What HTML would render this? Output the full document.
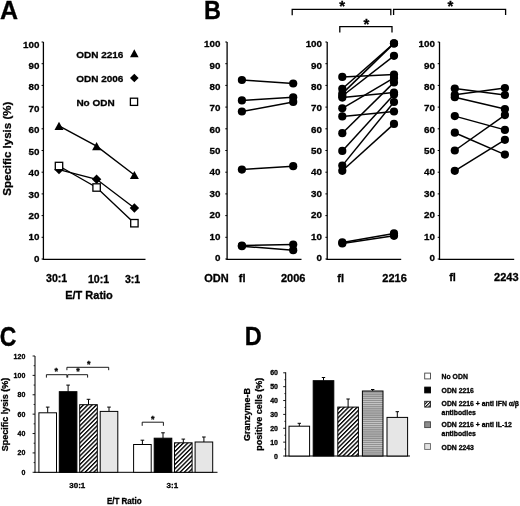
<!DOCTYPE html>
<html><head><meta charset="utf-8"><style>
html,body{margin:0;padding:0;background:#fff;}
svg{display:block;filter:grayscale(100%) blur(0.3px);}
text{font-family:"Liberation Sans", sans-serif;fill:#000;stroke:#000;stroke-width:0.3px;}
</style></head><body>
<svg width="520" height="506" viewBox="0 0 520 506">
<rect width="520" height="506" fill="#fff"/>
<text x="0.1" y="18.5" font-size="25" text-anchor="start" font-weight="bold" >A</text>
<line x1="43.4" y1="42" x2="43.4" y2="259.9" stroke="#000" stroke-width="1.3"/>
<line x1="42.8" y1="259.4" x2="145.5" y2="259.4" stroke="#000" stroke-width="1.1"/>
<line x1="41.6" y1="259.0" x2="43.4" y2="259.0" stroke="#000" stroke-width="1"/>
<text x="39.4" y="261.85" font-size="9.8" text-anchor="end" font-weight="bold" >0</text>
<line x1="41.6" y1="237.3" x2="43.4" y2="237.3" stroke="#000" stroke-width="1"/>
<text x="39.4" y="240.42000000000002" font-size="9.8" text-anchor="end" font-weight="bold" >10</text>
<line x1="41.6" y1="215.6" x2="43.4" y2="215.6" stroke="#000" stroke-width="1"/>
<text x="39.4" y="218.99" font-size="9.8" text-anchor="end" font-weight="bold" >20</text>
<line x1="41.6" y1="193.9" x2="43.4" y2="193.9" stroke="#000" stroke-width="1"/>
<text x="39.4" y="197.56000000000003" font-size="9.8" text-anchor="end" font-weight="bold" >30</text>
<line x1="41.6" y1="172.2" x2="43.4" y2="172.2" stroke="#000" stroke-width="1"/>
<text x="39.4" y="176.13000000000002" font-size="9.8" text-anchor="end" font-weight="bold" >40</text>
<line x1="41.6" y1="150.5" x2="43.4" y2="150.5" stroke="#000" stroke-width="1"/>
<text x="39.4" y="154.70000000000002" font-size="9.8" text-anchor="end" font-weight="bold" >50</text>
<line x1="41.6" y1="128.8" x2="43.4" y2="128.8" stroke="#000" stroke-width="1"/>
<text x="39.4" y="133.27000000000004" font-size="9.8" text-anchor="end" font-weight="bold" >60</text>
<line x1="41.6" y1="107.1" x2="43.4" y2="107.1" stroke="#000" stroke-width="1"/>
<text x="39.4" y="111.84000000000003" font-size="9.8" text-anchor="end" font-weight="bold" >70</text>
<line x1="41.6" y1="85.4" x2="43.4" y2="85.4" stroke="#000" stroke-width="1"/>
<text x="39.4" y="90.41000000000003" font-size="9.8" text-anchor="end" font-weight="bold" >80</text>
<line x1="41.6" y1="63.70000000000002" x2="43.4" y2="63.70000000000002" stroke="#000" stroke-width="1"/>
<text x="39.4" y="68.98000000000002" font-size="9.8" text-anchor="end" font-weight="bold" >90</text>
<line x1="41.6" y1="42.0" x2="43.4" y2="42.0" stroke="#000" stroke-width="1"/>
<text x="39.4" y="47.55000000000001" font-size="9.8" text-anchor="end" font-weight="bold" >100</text>
<text transform="translate(10.6,148.7) rotate(-90)" font-size="11.5" font-weight="bold" text-anchor="middle">Specific lysis (%)</text>
<text x="56.6" y="282.2" font-size="10.6" text-anchor="middle" font-weight="bold" >30:1</text>
<text x="98.5" y="283.4" font-size="10.6" text-anchor="middle" font-weight="bold" >10:1</text>
<text x="132.6" y="283.4" font-size="10.6" text-anchor="middle" font-weight="bold" >3:1</text>
<text x="89" y="299.0" font-size="11" text-anchor="middle" font-weight="bold" >E/T Ratio</text>
<polyline points="59,125.8 96.6,146.2 134.4,175" fill="none" stroke="#000" stroke-width="1.4"/>
<polyline points="59,169.6 96.6,179.3 134.4,208" fill="none" stroke="#000" stroke-width="1.4"/>
<polyline points="59,166 96.6,187.5 134.4,223.2" fill="none" stroke="#000" stroke-width="1.4"/>
<polygon points="54.5,129.9 63.5,129.9 59,121.7" fill="#000"/>
<polygon points="92.1,150.29999999999998 101.1,150.29999999999998 96.6,142.1" fill="#000"/>
<polygon points="129.9,179.1 138.9,179.1 134.4,170.9" fill="#000"/>
<polygon points="59,164.9 63.7,169.6 59,174.29999999999998 54.3,169.6" fill="#000"/>
<polygon points="96.6,174.60000000000002 101.3,179.3 96.6,184.0 91.89999999999999,179.3" fill="#000"/>
<polygon points="134.4,203.3 139.1,208 134.4,212.7 129.70000000000002,208" fill="#000"/>
<rect x="55.3" y="162.3" width="7.4" height="7.4" fill="#fff" stroke="#000" stroke-width="1.3"/>
<rect x="92.89999999999999" y="183.8" width="7.4" height="7.4" fill="#fff" stroke="#000" stroke-width="1.3"/>
<rect x="130.70000000000002" y="219.5" width="7.4" height="7.4" fill="#fff" stroke="#000" stroke-width="1.3"/>
<text transform="translate(76.2,57.9) scale(1,0.9)" font-size="10" font-weight="bold">ODN 2216</text>
<polygon points="130.0,57.3 138.60000000000002,57.3 134.3,49.3" fill="#000"/>
<text transform="translate(76.2,82) scale(1,0.9)" font-size="10" font-weight="bold">ODN 2006</text>
<polygon points="134.3,73.7 138.60000000000002,78 134.3,82.3 130.0,78" fill="#000"/>
<text transform="translate(76.4,106.2) scale(1,0.9)" font-size="10" font-weight="bold">No ODN</text>
<rect x="130.4" y="98.2" width="7.2" height="7.2" fill="#fff" stroke="#000" stroke-width="1.3"/>
<text transform="translate(204,18.5) scale(1,1.08)" font-size="23.5" font-weight="bold">B</text>
<line x1="227.1" y1="42" x2="227.1" y2="259.9" stroke="#000" stroke-width="1.3"/>
<line x1="226.5" y1="259.4" x2="301.5" y2="259.4" stroke="#000" stroke-width="1.1"/>
<line x1="225.29999999999998" y1="259.0" x2="227.1" y2="259.0" stroke="#000" stroke-width="1"/>
<text x="220.4" y="260.9" font-size="9.8" text-anchor="end" font-weight="bold" >0</text>
<line x1="225.29999999999998" y1="237.3" x2="227.1" y2="237.3" stroke="#000" stroke-width="1"/>
<text x="220.4" y="239.53999999999996" font-size="9.8" text-anchor="end" font-weight="bold" >10</text>
<line x1="225.29999999999998" y1="215.6" x2="227.1" y2="215.6" stroke="#000" stroke-width="1"/>
<text x="220.4" y="218.17999999999998" font-size="9.8" text-anchor="end" font-weight="bold" >20</text>
<line x1="225.29999999999998" y1="193.9" x2="227.1" y2="193.9" stroke="#000" stroke-width="1"/>
<text x="220.4" y="196.82" font-size="9.8" text-anchor="end" font-weight="bold" >30</text>
<line x1="225.29999999999998" y1="172.2" x2="227.1" y2="172.2" stroke="#000" stroke-width="1"/>
<text x="220.4" y="175.45999999999998" font-size="9.8" text-anchor="end" font-weight="bold" >40</text>
<line x1="225.29999999999998" y1="150.5" x2="227.1" y2="150.5" stroke="#000" stroke-width="1"/>
<text x="220.4" y="154.09999999999997" font-size="9.8" text-anchor="end" font-weight="bold" >50</text>
<line x1="225.29999999999998" y1="128.8" x2="227.1" y2="128.8" stroke="#000" stroke-width="1"/>
<text x="220.4" y="132.73999999999998" font-size="9.8" text-anchor="end" font-weight="bold" >60</text>
<line x1="225.29999999999998" y1="107.1" x2="227.1" y2="107.1" stroke="#000" stroke-width="1"/>
<text x="220.4" y="111.38" font-size="9.8" text-anchor="end" font-weight="bold" >70</text>
<line x1="225.29999999999998" y1="85.4" x2="227.1" y2="85.4" stroke="#000" stroke-width="1"/>
<text x="220.4" y="90.01999999999998" font-size="9.8" text-anchor="end" font-weight="bold" >80</text>
<line x1="225.29999999999998" y1="63.70000000000002" x2="227.1" y2="63.70000000000002" stroke="#000" stroke-width="1"/>
<text x="220.4" y="68.65999999999997" font-size="9.8" text-anchor="end" font-weight="bold" >90</text>
<line x1="225.29999999999998" y1="42.0" x2="227.1" y2="42.0" stroke="#000" stroke-width="1"/>
<text x="220.4" y="47.29999999999998" font-size="9.8" text-anchor="end" font-weight="bold" >100</text>
<line x1="327.2" y1="42" x2="327.2" y2="259.9" stroke="#000" stroke-width="1.3"/>
<line x1="326.59999999999997" y1="259.4" x2="401.2" y2="259.4" stroke="#000" stroke-width="1.1"/>
<line x1="325.4" y1="259.0" x2="327.2" y2="259.0" stroke="#000" stroke-width="1"/>
<text x="322.0" y="260.9" font-size="9.8" text-anchor="end" font-weight="bold" >0</text>
<line x1="325.4" y1="237.3" x2="327.2" y2="237.3" stroke="#000" stroke-width="1"/>
<text x="322.0" y="239.53999999999996" font-size="9.8" text-anchor="end" font-weight="bold" >10</text>
<line x1="325.4" y1="215.6" x2="327.2" y2="215.6" stroke="#000" stroke-width="1"/>
<text x="322.0" y="218.17999999999998" font-size="9.8" text-anchor="end" font-weight="bold" >20</text>
<line x1="325.4" y1="193.9" x2="327.2" y2="193.9" stroke="#000" stroke-width="1"/>
<text x="322.0" y="196.82" font-size="9.8" text-anchor="end" font-weight="bold" >30</text>
<line x1="325.4" y1="172.2" x2="327.2" y2="172.2" stroke="#000" stroke-width="1"/>
<text x="322.0" y="175.45999999999998" font-size="9.8" text-anchor="end" font-weight="bold" >40</text>
<line x1="325.4" y1="150.5" x2="327.2" y2="150.5" stroke="#000" stroke-width="1"/>
<text x="322.0" y="154.09999999999997" font-size="9.8" text-anchor="end" font-weight="bold" >50</text>
<line x1="325.4" y1="128.8" x2="327.2" y2="128.8" stroke="#000" stroke-width="1"/>
<text x="322.0" y="132.73999999999998" font-size="9.8" text-anchor="end" font-weight="bold" >60</text>
<line x1="325.4" y1="107.1" x2="327.2" y2="107.1" stroke="#000" stroke-width="1"/>
<text x="322.0" y="111.38" font-size="9.8" text-anchor="end" font-weight="bold" >70</text>
<line x1="325.4" y1="85.4" x2="327.2" y2="85.4" stroke="#000" stroke-width="1"/>
<text x="322.0" y="90.01999999999998" font-size="9.8" text-anchor="end" font-weight="bold" >80</text>
<line x1="325.4" y1="63.70000000000002" x2="327.2" y2="63.70000000000002" stroke="#000" stroke-width="1"/>
<text x="322.0" y="68.65999999999997" font-size="9.8" text-anchor="end" font-weight="bold" >90</text>
<line x1="325.4" y1="42.0" x2="327.2" y2="42.0" stroke="#000" stroke-width="1"/>
<text x="322.0" y="47.29999999999998" font-size="9.8" text-anchor="end" font-weight="bold" >100</text>
<line x1="439.5" y1="42" x2="439.5" y2="259.9" stroke="#000" stroke-width="1.3"/>
<line x1="438.9" y1="259.4" x2="514.2" y2="259.4" stroke="#000" stroke-width="1.1"/>
<line x1="437.7" y1="259.0" x2="439.5" y2="259.0" stroke="#000" stroke-width="1"/>
<text x="434.9" y="260.9" font-size="9.8" text-anchor="end" font-weight="bold" >0</text>
<line x1="437.7" y1="237.3" x2="439.5" y2="237.3" stroke="#000" stroke-width="1"/>
<text x="434.9" y="239.53999999999996" font-size="9.8" text-anchor="end" font-weight="bold" >10</text>
<line x1="437.7" y1="215.6" x2="439.5" y2="215.6" stroke="#000" stroke-width="1"/>
<text x="434.9" y="218.17999999999998" font-size="9.8" text-anchor="end" font-weight="bold" >20</text>
<line x1="437.7" y1="193.9" x2="439.5" y2="193.9" stroke="#000" stroke-width="1"/>
<text x="434.9" y="196.82" font-size="9.8" text-anchor="end" font-weight="bold" >30</text>
<line x1="437.7" y1="172.2" x2="439.5" y2="172.2" stroke="#000" stroke-width="1"/>
<text x="434.9" y="175.45999999999998" font-size="9.8" text-anchor="end" font-weight="bold" >40</text>
<line x1="437.7" y1="150.5" x2="439.5" y2="150.5" stroke="#000" stroke-width="1"/>
<text x="434.9" y="154.09999999999997" font-size="9.8" text-anchor="end" font-weight="bold" >50</text>
<line x1="437.7" y1="128.8" x2="439.5" y2="128.8" stroke="#000" stroke-width="1"/>
<text x="434.9" y="132.73999999999998" font-size="9.8" text-anchor="end" font-weight="bold" >60</text>
<line x1="437.7" y1="107.1" x2="439.5" y2="107.1" stroke="#000" stroke-width="1"/>
<text x="434.9" y="111.38" font-size="9.8" text-anchor="end" font-weight="bold" >70</text>
<line x1="437.7" y1="85.4" x2="439.5" y2="85.4" stroke="#000" stroke-width="1"/>
<text x="434.9" y="90.01999999999998" font-size="9.8" text-anchor="end" font-weight="bold" >80</text>
<line x1="437.7" y1="63.70000000000002" x2="439.5" y2="63.70000000000002" stroke="#000" stroke-width="1"/>
<text x="434.9" y="68.65999999999997" font-size="9.8" text-anchor="end" font-weight="bold" >90</text>
<line x1="437.7" y1="42.0" x2="439.5" y2="42.0" stroke="#000" stroke-width="1"/>
<text x="434.9" y="47.29999999999998" font-size="9.8" text-anchor="end" font-weight="bold" >100</text>
<line x1="241.9" y1="80" x2="293.2" y2="83.5" stroke="#000" stroke-width="1.5"/>
<line x1="241.9" y1="100.4" x2="293.2" y2="97.3" stroke="#000" stroke-width="1.5"/>
<line x1="241.9" y1="111.5" x2="293.2" y2="101.9" stroke="#000" stroke-width="1.5"/>
<line x1="241.9" y1="169.6" x2="293.2" y2="166.2" stroke="#000" stroke-width="1.5"/>
<line x1="241.9" y1="245.5" x2="293.2" y2="244.6" stroke="#000" stroke-width="1.5"/>
<line x1="241.9" y1="246.2" x2="293.2" y2="250.2" stroke="#000" stroke-width="1.5"/>
<circle cx="241.9" cy="80" r="4.1" fill="#000"/>
<circle cx="293.2" cy="83.5" r="4.1" fill="#000"/>
<circle cx="241.9" cy="100.4" r="4.1" fill="#000"/>
<circle cx="293.2" cy="97.3" r="4.1" fill="#000"/>
<circle cx="241.9" cy="111.5" r="4.1" fill="#000"/>
<circle cx="293.2" cy="101.9" r="4.1" fill="#000"/>
<circle cx="241.9" cy="169.6" r="4.1" fill="#000"/>
<circle cx="293.2" cy="166.2" r="4.1" fill="#000"/>
<circle cx="241.9" cy="245.5" r="4.1" fill="#000"/>
<circle cx="293.2" cy="244.6" r="4.1" fill="#000"/>
<circle cx="241.9" cy="246.2" r="4.1" fill="#000"/>
<circle cx="293.2" cy="250.2" r="4.1" fill="#000"/>
<line x1="342.3" y1="76.9" x2="394.0" y2="74.6" stroke="#000" stroke-width="1.5"/>
<line x1="342.3" y1="88.8" x2="394.0" y2="43.4" stroke="#000" stroke-width="1.5"/>
<line x1="342.3" y1="93.6" x2="394.0" y2="43.4" stroke="#000" stroke-width="1.5"/>
<line x1="342.3" y1="96" x2="394.0" y2="55.8" stroke="#000" stroke-width="1.5"/>
<line x1="342.3" y1="97.6" x2="394.0" y2="92.5" stroke="#000" stroke-width="1.5"/>
<line x1="342.3" y1="108.3" x2="394.0" y2="77.9" stroke="#000" stroke-width="1.5"/>
<line x1="342.3" y1="116.4" x2="394.0" y2="111.5" stroke="#000" stroke-width="1.5"/>
<line x1="342.3" y1="133.2" x2="394.0" y2="82.4" stroke="#000" stroke-width="1.5"/>
<line x1="342.3" y1="150.9" x2="394.0" y2="94.6" stroke="#000" stroke-width="1.5"/>
<line x1="342.3" y1="165.6" x2="394.0" y2="102" stroke="#000" stroke-width="1.5"/>
<line x1="342.3" y1="170.8" x2="394.0" y2="123.9" stroke="#000" stroke-width="1.5"/>
<line x1="342.3" y1="242.4" x2="394.0" y2="233.4" stroke="#000" stroke-width="1.5"/>
<line x1="342.3" y1="243.4" x2="394.0" y2="235.8" stroke="#000" stroke-width="1.5"/>
<circle cx="342.3" cy="76.9" r="4.1" fill="#000"/>
<circle cx="394.0" cy="74.6" r="4.1" fill="#000"/>
<circle cx="342.3" cy="88.8" r="4.1" fill="#000"/>
<circle cx="394.0" cy="43.4" r="4.1" fill="#000"/>
<circle cx="342.3" cy="93.6" r="4.1" fill="#000"/>
<circle cx="394.0" cy="43.4" r="4.1" fill="#000"/>
<circle cx="342.3" cy="96" r="4.1" fill="#000"/>
<circle cx="394.0" cy="55.8" r="4.1" fill="#000"/>
<circle cx="342.3" cy="97.6" r="4.1" fill="#000"/>
<circle cx="394.0" cy="92.5" r="4.1" fill="#000"/>
<circle cx="342.3" cy="108.3" r="4.1" fill="#000"/>
<circle cx="394.0" cy="77.9" r="4.1" fill="#000"/>
<circle cx="342.3" cy="116.4" r="4.1" fill="#000"/>
<circle cx="394.0" cy="111.5" r="4.1" fill="#000"/>
<circle cx="342.3" cy="133.2" r="4.1" fill="#000"/>
<circle cx="394.0" cy="82.4" r="4.1" fill="#000"/>
<circle cx="342.3" cy="150.9" r="4.1" fill="#000"/>
<circle cx="394.0" cy="94.6" r="4.1" fill="#000"/>
<circle cx="342.3" cy="165.6" r="4.1" fill="#000"/>
<circle cx="394.0" cy="102" r="4.1" fill="#000"/>
<circle cx="342.3" cy="170.8" r="4.1" fill="#000"/>
<circle cx="394.0" cy="123.9" r="4.1" fill="#000"/>
<circle cx="342.3" cy="242.4" r="4.1" fill="#000"/>
<circle cx="394.0" cy="233.4" r="4.1" fill="#000"/>
<circle cx="342.3" cy="243.4" r="4.1" fill="#000"/>
<circle cx="394.0" cy="235.8" r="4.1" fill="#000"/>
<line x1="454.8" y1="88.6" x2="504.9" y2="95" stroke="#000" stroke-width="1.5"/>
<line x1="454.8" y1="94.8" x2="504.9" y2="88" stroke="#000" stroke-width="1.5"/>
<line x1="454.8" y1="97.2" x2="504.9" y2="109" stroke="#000" stroke-width="1.5"/>
<line x1="454.8" y1="116.1" x2="504.9" y2="129.9" stroke="#000" stroke-width="1.5"/>
<line x1="454.8" y1="132.7" x2="504.9" y2="154.6" stroke="#000" stroke-width="1.5"/>
<line x1="454.8" y1="150.5" x2="504.9" y2="115.1" stroke="#000" stroke-width="1.5"/>
<line x1="454.8" y1="170.8" x2="504.9" y2="139.8" stroke="#000" stroke-width="1.5"/>
<circle cx="454.8" cy="88.6" r="4.1" fill="#000"/>
<circle cx="504.9" cy="95" r="4.1" fill="#000"/>
<circle cx="454.8" cy="94.8" r="4.1" fill="#000"/>
<circle cx="504.9" cy="88" r="4.1" fill="#000"/>
<circle cx="454.8" cy="97.2" r="4.1" fill="#000"/>
<circle cx="504.9" cy="109" r="4.1" fill="#000"/>
<circle cx="454.8" cy="116.1" r="4.1" fill="#000"/>
<circle cx="504.9" cy="129.9" r="4.1" fill="#000"/>
<circle cx="454.8" cy="132.7" r="4.1" fill="#000"/>
<circle cx="504.9" cy="154.6" r="4.1" fill="#000"/>
<circle cx="454.8" cy="150.5" r="4.1" fill="#000"/>
<circle cx="504.9" cy="115.1" r="4.1" fill="#000"/>
<circle cx="454.8" cy="170.8" r="4.1" fill="#000"/>
<circle cx="504.9" cy="139.8" r="4.1" fill="#000"/>
<text x="216.4" y="282" font-size="11" text-anchor="middle" font-weight="bold" >ODN</text>
<text x="242.2" y="282" font-size="11" text-anchor="middle" font-weight="bold" >fl</text>
<text x="293.2" y="282" font-size="11" text-anchor="middle" font-weight="bold" >2006</text>
<text x="340.6" y="282" font-size="11" text-anchor="middle" font-weight="bold" >fl</text>
<text x="394.6" y="282" font-size="11" text-anchor="middle" font-weight="bold" >2216</text>
<text x="452.5" y="281" font-size="11" text-anchor="middle" font-weight="bold" >fl</text>
<text x="506.3" y="281" font-size="11" text-anchor="middle" font-weight="bold" >2243</text>
<polyline points="292.2,15.2 292.2,9.4 390.8,9.4 390.8,15.2" fill="none" stroke="#000" stroke-width="1.3"/>
<text x="342.2" y="10.899999999999999" font-size="15" text-anchor="middle" font-weight="bold" >*</text>
<polyline points="339.8,32.4 339.8,26.7 392.0,26.7 392.0,32.4" fill="none" stroke="#000" stroke-width="1.3"/>
<text x="366.3" y="28.9" font-size="15" text-anchor="middle" font-weight="bold" >*</text>
<polyline points="393.6,15.0 393.6,9.4 505.6,9.4 505.6,15.0" fill="none" stroke="#000" stroke-width="1.3"/>
<text x="450.5" y="11.399999999999999" font-size="15" text-anchor="middle" font-weight="bold" >*</text>
<text transform="translate(-0.2,345.6) scale(1,1.2)" font-size="23" font-weight="bold">C</text>
<line x1="35" y1="356" x2="35" y2="472.8" stroke="#000" stroke-width="1.0"/>
<line x1="34.5" y1="472.3" x2="217.5" y2="472.3" stroke="#000" stroke-width="1.0"/>
<line x1="32.6" y1="472.3" x2="35" y2="472.3" stroke="#000" stroke-width="0.9"/>
<text x="25.3" y="474.8" font-size="7" text-anchor="end" font-weight="bold" >0</text>
<line x1="33.6" y1="462.60833333333335" x2="35" y2="462.60833333333335" stroke="#000" stroke-width="0.8"/>
<line x1="32.6" y1="452.9166666666667" x2="35" y2="452.9166666666667" stroke="#000" stroke-width="0.9"/>
<text x="25.3" y="455.4166666666667" font-size="7" text-anchor="end" font-weight="bold" >20</text>
<line x1="33.6" y1="443.225" x2="35" y2="443.225" stroke="#000" stroke-width="0.8"/>
<line x1="32.6" y1="433.53333333333336" x2="35" y2="433.53333333333336" stroke="#000" stroke-width="0.9"/>
<text x="25.3" y="436.03333333333336" font-size="7" text-anchor="end" font-weight="bold" >40</text>
<line x1="33.6" y1="423.8416666666667" x2="35" y2="423.8416666666667" stroke="#000" stroke-width="0.8"/>
<line x1="32.6" y1="414.15" x2="35" y2="414.15" stroke="#000" stroke-width="0.9"/>
<text x="25.3" y="416.65" font-size="7" text-anchor="end" font-weight="bold" >60</text>
<line x1="33.6" y1="404.45833333333337" x2="35" y2="404.45833333333337" stroke="#000" stroke-width="0.8"/>
<line x1="32.6" y1="394.76666666666665" x2="35" y2="394.76666666666665" stroke="#000" stroke-width="0.9"/>
<text x="25.3" y="397.26666666666665" font-size="7" text-anchor="end" font-weight="bold" >80</text>
<line x1="33.6" y1="385.075" x2="35" y2="385.075" stroke="#000" stroke-width="0.8"/>
<line x1="32.6" y1="375.3833333333333" x2="35" y2="375.3833333333333" stroke="#000" stroke-width="0.9"/>
<text x="25.3" y="377.8833333333333" font-size="7" text-anchor="end" font-weight="bold" >100</text>
<line x1="33.6" y1="365.69166666666666" x2="35" y2="365.69166666666666" stroke="#000" stroke-width="0.8"/>
<line x1="32.6" y1="356.0" x2="35" y2="356.0" stroke="#000" stroke-width="0.9"/>
<text x="25.3" y="358.5" font-size="7" text-anchor="end" font-weight="bold" >120</text>
<text transform="translate(8.2,414.4) rotate(-90)" font-size="9" font-weight="bold" text-anchor="middle">Specific lysis (%)</text>
<defs>
<pattern id="hatch" patternUnits="userSpaceOnUse" width="3.05" height="3.05" patternTransform="rotate(45)">
<rect width="3.05" height="3.05" fill="#fff"/><rect width="1.35" height="3.05" fill="#000"/></pattern>
<pattern id="hatchs" patternUnits="userSpaceOnUse" width="2.4" height="2.4" patternTransform="rotate(45)">
<rect width="2.4" height="2.4" fill="#fff"/><rect width="1.1" height="2.4" fill="#000"/></pattern>
<pattern id="hlines" patternUnits="userSpaceOnUse" width="4" height="2.1">
<rect width="4" height="2.1" fill="#8e8e8e"/><rect width="4" height="0.8" fill="#c8c8c8"/></pattern>
</defs>
<line x1="47.7" y1="412.8" x2="47.7" y2="407.1" stroke="#000" stroke-width="1.0"/>
<line x1="45.900000000000006" y1="407.1" x2="49.5" y2="407.1" stroke="#000" stroke-width="1.0"/>
<rect x="38.9" y="412.8" width="17.6" height="59.5" fill="#fff" stroke="#000" stroke-width="1.0"/>
<line x1="142.4" y1="444.5" x2="142.4" y2="440.2" stroke="#000" stroke-width="1.0"/>
<line x1="140.6" y1="440.2" x2="144.20000000000002" y2="440.2" stroke="#000" stroke-width="1.0"/>
<rect x="133.6" y="444.5" width="17.6" height="27.80000000000001" fill="#fff" stroke="#000" stroke-width="1.0"/>
<line x1="68.1" y1="391.7" x2="68.1" y2="385.1" stroke="#000" stroke-width="1.0"/>
<line x1="66.3" y1="385.1" x2="69.89999999999999" y2="385.1" stroke="#000" stroke-width="1.0"/>
<rect x="59.3" y="391.7" width="17.6" height="80.60000000000002" fill="#000" stroke="#000" stroke-width="1.0"/>
<line x1="163.0" y1="438.2" x2="163.0" y2="432.8" stroke="#000" stroke-width="1.0"/>
<line x1="161.2" y1="432.8" x2="164.8" y2="432.8" stroke="#000" stroke-width="1.0"/>
<rect x="154.2" y="438.2" width="17.6" height="34.10000000000002" fill="#000" stroke="#000" stroke-width="1.0"/>
<line x1="88.5" y1="404.7" x2="88.5" y2="399.3" stroke="#000" stroke-width="1.0"/>
<line x1="86.7" y1="399.3" x2="90.3" y2="399.3" stroke="#000" stroke-width="1.0"/>
<rect x="79.7" y="404.7" width="17.6" height="67.60000000000002" fill="url(#hatch)" stroke="#000" stroke-width="1.0"/>
<line x1="183.3" y1="442.8" x2="183.3" y2="439.1" stroke="#000" stroke-width="1.0"/>
<line x1="181.5" y1="439.1" x2="185.10000000000002" y2="439.1" stroke="#000" stroke-width="1.0"/>
<rect x="174.5" y="442.8" width="17.6" height="29.5" fill="url(#hatch)" stroke="#000" stroke-width="1.0"/>
<line x1="109.0" y1="411.4" x2="109.0" y2="407.1" stroke="#000" stroke-width="1.0"/>
<line x1="107.2" y1="407.1" x2="110.8" y2="407.1" stroke="#000" stroke-width="1.0"/>
<rect x="100.2" y="411.4" width="17.6" height="60.900000000000034" fill="#e6e6e6" stroke="#000" stroke-width="1.0"/>
<line x1="203.9" y1="442.0" x2="203.9" y2="437" stroke="#000" stroke-width="1.0"/>
<line x1="202.1" y1="437" x2="205.70000000000002" y2="437" stroke="#000" stroke-width="1.0"/>
<rect x="195.1" y="442.0" width="17.6" height="30.30000000000001" fill="#e6e6e6" stroke="#000" stroke-width="1.0"/>
<polyline points="46.4,377.6 46.4,374.7 66.9,374.7 66.9,377.6" fill="none" stroke="#000" stroke-width="0.9"/>
<text x="56.2" y="374.35999999999996" font-size="9" text-anchor="middle" font-weight="bold" >*</text>
<polyline points="67.7,377.6 67.7,374.7 87.6,374.7 87.6,377.6" fill="none" stroke="#000" stroke-width="0.9"/>
<text x="77.9" y="374.35999999999996" font-size="9" text-anchor="middle" font-weight="bold" >*</text>
<polyline points="66.9,370.2 66.9,367.3 108.7,367.3 108.7,370.2" fill="none" stroke="#000" stroke-width="0.9"/>
<text x="88.8" y="367.15999999999997" font-size="9" text-anchor="middle" font-weight="bold" >*</text>
<polyline points="142.2,425.8 142.2,422.2 163.4,422.2 163.4,425.8" fill="none" stroke="#000" stroke-width="0.9"/>
<text x="152.8" y="422.15999999999997" font-size="9" text-anchor="middle" font-weight="bold" >*</text>
<text x="77.3" y="488.4" font-size="8" text-anchor="middle" font-weight="bold" >30:1</text>
<text x="172.4" y="487.6" font-size="8" text-anchor="middle" font-weight="bold" >3:1</text>
<text transform="translate(124.2,504.2) scale(1,1.12)" font-size="8" font-weight="bold" text-anchor="middle">E/T Ratio</text>
<text transform="translate(244.8,344.9) scale(1,1.1)" font-size="23.5" font-weight="bold">D</text>
<line x1="285.7" y1="372.3" x2="285.7" y2="456.5" stroke="#000" stroke-width="1.0"/>
<line x1="285.2" y1="456" x2="410" y2="456" stroke="#000" stroke-width="1.0"/>
<line x1="283.2" y1="456.0" x2="285.7" y2="456.0" stroke="#000" stroke-width="0.9"/>
<text x="278.0" y="458.5" font-size="7" text-anchor="end" font-weight="bold" >0</text>
<line x1="284.4" y1="449.06666666666666" x2="285.7" y2="449.06666666666666" stroke="#000" stroke-width="0.8"/>
<line x1="283.2" y1="442.1333333333333" x2="285.7" y2="442.1333333333333" stroke="#000" stroke-width="0.9"/>
<text x="278.0" y="444.6333333333333" font-size="7" text-anchor="end" font-weight="bold" >10</text>
<line x1="284.4" y1="435.2" x2="285.7" y2="435.2" stroke="#000" stroke-width="0.8"/>
<line x1="283.2" y1="428.26666666666665" x2="285.7" y2="428.26666666666665" stroke="#000" stroke-width="0.9"/>
<text x="278.0" y="430.76666666666665" font-size="7" text-anchor="end" font-weight="bold" >20</text>
<line x1="284.4" y1="421.3333333333333" x2="285.7" y2="421.3333333333333" stroke="#000" stroke-width="0.8"/>
<line x1="283.2" y1="414.4" x2="285.7" y2="414.4" stroke="#000" stroke-width="0.9"/>
<text x="278.0" y="416.9" font-size="7" text-anchor="end" font-weight="bold" >30</text>
<line x1="284.4" y1="407.4666666666667" x2="285.7" y2="407.4666666666667" stroke="#000" stroke-width="0.8"/>
<line x1="283.2" y1="400.53333333333336" x2="285.7" y2="400.53333333333336" stroke="#000" stroke-width="0.9"/>
<text x="278.0" y="403.03333333333336" font-size="7" text-anchor="end" font-weight="bold" >40</text>
<line x1="284.4" y1="393.6" x2="285.7" y2="393.6" stroke="#000" stroke-width="0.8"/>
<line x1="283.2" y1="386.6666666666667" x2="285.7" y2="386.6666666666667" stroke="#000" stroke-width="0.9"/>
<text x="278.0" y="389.1666666666667" font-size="7" text-anchor="end" font-weight="bold" >50</text>
<line x1="284.4" y1="379.73333333333335" x2="285.7" y2="379.73333333333335" stroke="#000" stroke-width="0.8"/>
<line x1="283.2" y1="372.8" x2="285.7" y2="372.8" stroke="#000" stroke-width="0.9"/>
<text x="278.0" y="375.3" font-size="7" text-anchor="end" font-weight="bold" >60</text>
<text transform="translate(250.2,414.6) rotate(-90)" font-size="9" font-weight="bold" text-anchor="middle">Granzyme-B</text>
<text transform="translate(261.8,414.2) rotate(-90)" font-size="9" font-weight="bold" text-anchor="middle">positive cells (%)</text>
<line x1="299.3" y1="426.2" x2="299.3" y2="423.3" stroke="#000" stroke-width="1.0"/>
<line x1="297.6" y1="423.3" x2="301.0" y2="423.3" stroke="#000" stroke-width="1.0"/>
<rect x="289.0" y="426.2" width="20.6" height="29.80000000000001" fill="#fff" stroke="#000" stroke-width="1.0"/>
<line x1="323.5" y1="380.7" x2="323.5" y2="377.5" stroke="#000" stroke-width="1.0"/>
<line x1="321.8" y1="377.5" x2="325.2" y2="377.5" stroke="#000" stroke-width="1.0"/>
<rect x="313.2" y="380.7" width="20.6" height="75.30000000000001" fill="#000" stroke="#000" stroke-width="1.0"/>
<line x1="348.1" y1="407.1" x2="348.1" y2="399" stroke="#000" stroke-width="1.0"/>
<line x1="346.40000000000003" y1="399" x2="349.8" y2="399" stroke="#000" stroke-width="1.0"/>
<rect x="337.8" y="407.1" width="20.6" height="48.89999999999998" fill="url(#hatch)" stroke="#000" stroke-width="1.0"/>
<line x1="372.7" y1="391" x2="372.7" y2="389.5" stroke="#000" stroke-width="1.0"/>
<line x1="371.0" y1="389.5" x2="374.4" y2="389.5" stroke="#000" stroke-width="1.0"/>
<rect x="362.4" y="391" width="20.6" height="65.0" fill="url(#hlines)" stroke="#000" stroke-width="1.0"/>
<line x1="397.3" y1="417.4" x2="397.3" y2="411.7" stroke="#000" stroke-width="1.0"/>
<line x1="395.6" y1="411.7" x2="399.0" y2="411.7" stroke="#000" stroke-width="1.0"/>
<rect x="387.0" y="417.4" width="20.6" height="38.60000000000002" fill="#e6e6e6" stroke="#000" stroke-width="1.0"/>
<rect x="424.7" y="373.1" width="5.8" height="5.8" fill="#fff" stroke="#444" stroke-width="0.9"/>
<rect x="424.7" y="387.1" width="5.8" height="5.8" fill="#000" stroke="#000" stroke-width="0.9"/>
<rect x="424.7" y="401.3" width="5.8" height="5.8" fill="url(#hatchs)" stroke="#222" stroke-width="0.9"/>
<rect x="424.7" y="421.8" width="5.8" height="5.8" fill="#8c8c8c" stroke="#444" stroke-width="0.9"/>
<rect x="424.7" y="443.6" width="5.8" height="5.8" fill="#e2e2e2" stroke="#666" stroke-width="0.9"/>
<text x="441.6" y="379.1" font-size="6.85" text-anchor="start" font-weight="bold" >No ODN</text>
<text x="441.6" y="392.9" font-size="6.85" text-anchor="start" font-weight="bold" >ODN 2216</text>
<text x="441.6" y="406.1" font-size="6.85" text-anchor="start" font-weight="bold" >ODN 2216 + anti IFN α/β</text>
<text x="441.6" y="415.1" font-size="6.85" text-anchor="start" font-weight="bold" >antibodies</text>
<text x="441.6" y="427.4" font-size="6.85" text-anchor="start" font-weight="bold" >ODN 2216 + anti IL-12</text>
<text x="441.6" y="435.6" font-size="6.85" text-anchor="start" font-weight="bold" >antibodies</text>
<text x="441.6" y="449.6" font-size="6.85" text-anchor="start" font-weight="bold" >ODN 2243</text>
</svg>
</body></html>
